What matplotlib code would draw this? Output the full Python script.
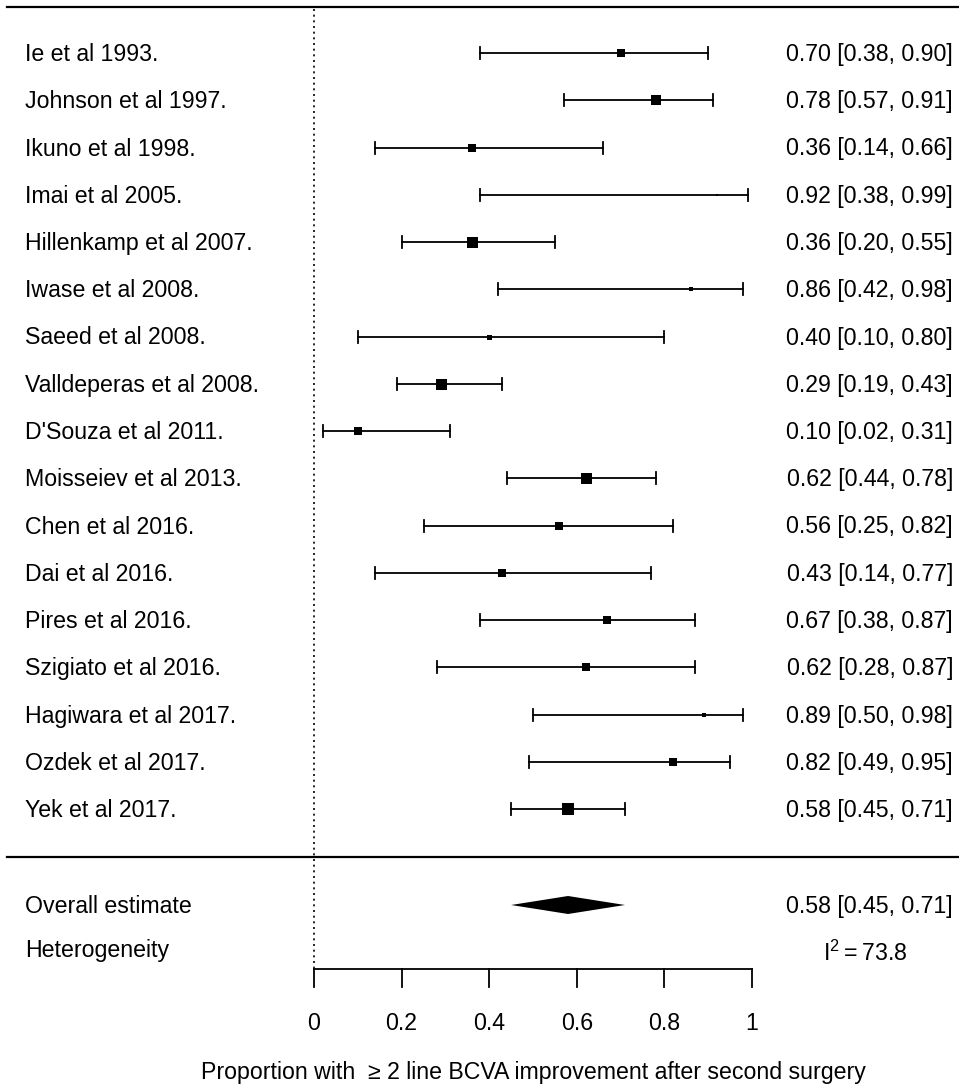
import matplotlib
matplotlib.use("Agg")
import matplotlib.pyplot as plt
import numpy as np

plt.rcParams['font.family'] = ['Liberation Sans', 'DejaVu Sans']
plt.rcParams['mathtext.fontset'] = 'custom'
plt.rcParams['mathtext.rm'] = 'Liberation Sans'

studies = ["Ie et al 1993.", "Johnson et al 1997.", "Ikuno et al 1998.", "Imai et al 2005.",
           "Hillenkamp et al 2007.", "Iwase et al 2008.", "Saeed et al 2008.",
           "Valldeperas et al 2008.", "D'Souza et al 2011.", "Moisseiev et al 2013.",
           "Chen et al 2016.", "Dai et al 2016.", "Pires et al 2016.", "Szigiato et al 2016.",
           "Hagiwara et al 2017.", "Ozdek et al 2017.", "Yek et al 2017."]
est = [0.70, 0.78, 0.36, 0.92, 0.36, 0.86, 0.40, 0.29, 0.10, 0.62, 0.56, 0.43, 0.67, 0.62, 0.89, 0.82, 0.58]
lo = [0.38, 0.57, 0.14, 0.38, 0.20, 0.42, 0.10, 0.19, 0.02, 0.44, 0.25, 0.14, 0.38, 0.28, 0.50, 0.49, 0.45]
hi = [0.90, 0.91, 0.66, 0.99, 0.55, 0.98, 0.80, 0.43, 0.31, 0.78, 0.82, 0.77, 0.87, 0.87, 0.98, 0.95, 0.71]
# relative marker sizes (pixels) reflecting study weights
weight_px = [7.5, 10, 8.5, 2.5, 11, 4, 5, 11, 7.5, 11, 7.5, 7.5, 8.5, 7.5, 4, 7.5, 12]

overall = (0.58, 0.45, 0.71)
i2 = 73.8
xticks = [0, 0.2, 0.4, 0.6, 0.8, 1]
xticklabels = ["0", "0.2", "0.4", "0.6", "0.8", "1"]
xlabel = "Proportion with  \u2265 2 line BCVA improvement after second surgery"

W, H = 959, 1091
dpi = 100
fig = plt.figure(figsize=(W / dpi, H / dpi), dpi=dpi)
ax = fig.add_axes([0, 0, 1, 1])
ax.axis('off')

# coordinate system: x in proportion units, y in row units
px_per_x = 438.0
x0_px = 314.0
row_px = 47.25
row0_px = 53.0
ax.set_xlim(-x0_px / px_per_x, (W - x0_px) / px_per_x)
ax.set_ylim((H - row0_px) / row_px, -row0_px / row_px)

def xp(p):
    return (p - x0_px) / px_per_x

def yp(p):
    return (p - row0_px) / row_px

fs = 16.7
toff = 1.5 / row_px
n = len(studies)
rows = np.arange(n)

# top and separator lines
ax.plot([xp(7), xp(W)], [yp(7), yp(7)], color='black', lw=1.6)
ax.plot([xp(7), xp(W)], [yp(857), yp(857)], color='black', lw=1.6)

# dotted zero line
ax.plot([0, 0], [yp(9), yp(969)], color='black', lw=1.2, linestyle=(0, (1.2, 2.2)))

cap = 6 / row_px
for i in range(n):
    ax.plot([lo[i], hi[i]], [rows[i], rows[i]], color='black', lw=1.3)
    ax.plot([lo[i], lo[i]], [rows[i] - cap, rows[i] + cap], color='black', lw=1.3)
    ax.plot([hi[i], hi[i]], [rows[i] - cap, rows[i] + cap], color='black', lw=1.3)
    ax.plot(est[i], rows[i], marker='s', color='black', markersize=weight_px[i] * 72 / dpi,
            markeredgewidth=0)
    ax.text(xp(25), rows[i] + toff, studies[i], fontsize=fs, ha='left', va='center')
    ax.text(xp(953), rows[i] + toff, f"{est[i]:.2f} [{lo[i]:.2f}, {hi[i]:.2f}]",
            fontsize=fs, ha='right', va='center')

# overall diamond
yo = yp(905)
dh = 9 / row_px
ax.fill([overall[1], overall[0], overall[2], overall[0]], [yo, yo - dh, yo, yo + dh],
        color='black', lw=0)
ax.text(xp(25), yo + toff, "Overall estimate", fontsize=fs, ha='left', va='center')
ax.text(xp(953), yo + toff, f"{overall[0]:.2f} [{overall[1]:.2f}, {overall[2]:.2f}]",
        fontsize=fs, ha='right', va='center')

yh = yp(951)
ax.text(xp(25), yh, "Heterogeneity", fontsize=fs, ha='left', va='center')
ax.text(xp(865), yh + 0.05, r"$\mathregular{I^2 = %.1f}$" % i2, fontsize=fs, ha='center', va='center')

# x axis
ya = yp(969)
ax.plot([xticks[0], xticks[-1]], [ya, ya], color='black', lw=1.3)
for t, lab in zip(xticks, xticklabels):
    ax.plot([t, t], [ya, yp(987)], color='black', lw=1.3)
    ax.text(t, yp(1024), lab, fontsize=fs, ha='center', va='center')

ax.text(np.mean([xticks[0], xticks[-1]]), yp(1072), xlabel, fontsize=fs, ha='center', va='center')

fig.savefig("out.png", dpi=dpi)
